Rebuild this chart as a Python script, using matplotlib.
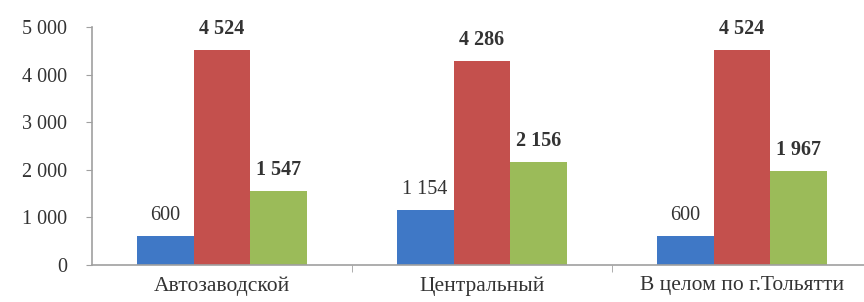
import matplotlib
matplotlib.use("Agg")
import matplotlib.pyplot as plt
import numpy as np

categories = ["Автозаводской", "Центральный", "В целом по г.Тольятти"]
series_a = [600, 1154, 600]
series_b = [4524, 4286, 4524]
series_c = [1547, 2156, 1967]
y_ticks = [0, 1000, 2000, 3000, 4000, 5000]
y_tick_labels = ["0", "1 000", "2 000", "3 000", "4 000", "5 000"]

def fmt(v):
    return f"{v:,}".replace(",", " ")

plt.rcParams['font.family'] = ['Liberation Serif', 'DejaVu Serif']

fig = plt.figure(figsize=(8.64, 3.02), dpi=100)
ax = fig.add_axes([92/864, 37/302, 780/864, 238/302])
ax.set_clip_on(False)

x = np.arange(len(categories))
w = 0.219
colors = ["#3F78C6", "#C4504D", "#9BBB59"]
series = [series_a, series_b, series_c]
weights = ["normal", "bold", "bold"]
for i, (s, c, fw) in enumerate(zip(series, colors, weights)):
    bars = ax.bar(x + (i - 1) * w, s, width=w, color=c)
    for b, v in zip(bars, s):
        ax.annotate(fmt(v), (b.get_x() + b.get_width() / 2, v),
                    xytext=(0, 8), textcoords="offset points",
                    ha="center", va="bottom", fontsize=14.5, fontweight=fw,
                    color="#333333")

ax.set_xlim(-0.5, len(categories) - 0.5)
ax.set_ylim(0, 5000)
ax.set_yticks(y_ticks)
ax.set_yticklabels(y_tick_labels, fontsize=14.5, color="#333333")
ax.set_xticks(x)
ax.set_xticklabels(categories, fontsize=15.5, color="#333333")
ax.set_xticks([0.5, 1.5], minor=True)
ax.tick_params(axis="x", which="major", length=0, pad=8)
ax.tick_params(axis="x", which="minor", length=5, color="#A0A0A0")
ax.tick_params(axis="y", length=4, color="#A0A0A0", pad=14)

for sp in ["top", "right"]:
    ax.spines[sp].set_visible(False)
ax.spines["left"].set_color("#A0A0A0")
ax.spines["bottom"].set_color("#A0A0A0")
ax.spines["left"].set_linewidth(1.2)
ax.spines["bottom"].set_linewidth(1.2)

fig.savefig("out.png", dpi=100)
